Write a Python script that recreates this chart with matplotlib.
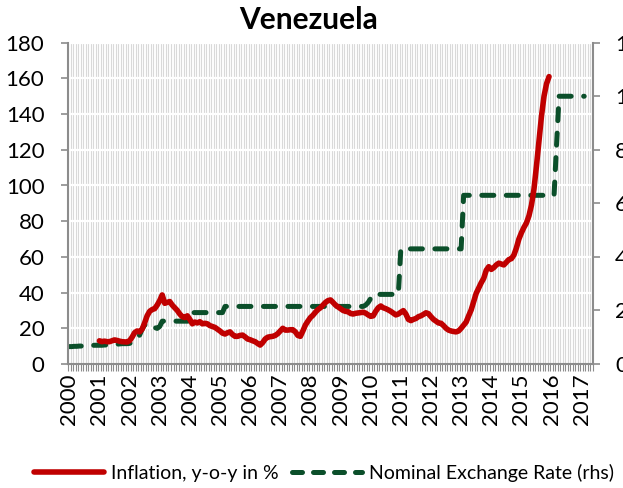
import numpy as np
import matplotlib
matplotlib.use("Agg")
import matplotlib.pyplot as plt
from matplotlib.lines import Line2D

plt.rcParams['font.family'] = ['Lato', 'DejaVu Sans']

# ---------------- data (monthly, Jan 2000 .. May 2017) ----------------
years = list(range(2000, 2018))
n_months = 209  # Jan 2000 .. May 2017

# Inflation, y-o-y in % (starts Jan 2001, ends Dec 2015)
infl_2001 = [13, 12.5, 12.8, 12.5, 12.5, 13, 13.5, 13.2, 12.8, 12.5, 12.4, 12.3]
infl_2002 = [13, 15, 17.5, 18.5, 18, 19.5, 23, 27, 29.5, 30.5, 31, 33]
infl_2003 = [35.5, 38.7, 34, 34.5, 35, 33, 31.5, 30, 28, 26.5, 26, 27]
infl_2004 = [25, 22.5, 23.5, 23, 23.7, 22.5, 22.8, 22.5, 21.5, 21, 20.5, 19.5]
infl_2005 = [18.5, 17.3, 16.8, 17.5, 18, 16.5, 15.5, 15.5, 16, 16.2, 15.2, 14]
infl_2006 = [13.6, 13, 12.5, 11.5, 10.6, 12, 14, 15, 15.3, 15.5, 16, 17]
infl_2007 = [18.5, 20, 19, 19, 19.2, 19.2, 18, 16, 15.5, 18.5, 21.8, 24]
infl_2008 = [26, 27.3, 29, 30.5, 31.5, 33, 34.5, 35.5, 35.9, 34.5, 33, 32]
infl_2009 = [31, 30, 29.5, 29.3, 28.3, 28, 28.4, 28.6, 28.8, 29, 28.5, 27.5]
infl_2010 = [26.7, 27, 29.5, 31.5, 32.5, 31.5, 31, 30.3, 29.5, 28.5, 27.5, 28]
infl_2011 = [29, 29.9, 28, 25, 24.3, 25, 25.5, 26.5, 27, 27.8, 28.7, 28.2]
infl_2012 = [26.5, 25, 24, 23, 22.8, 21.5, 20, 19, 18.5, 18.2, 18, 18.5]
infl_2013 = [20, 21.8, 23.5, 27, 30.3, 35, 39.6, 42.5, 45.5, 48, 52.5, 54.5]
infl_2014 = [53, 54, 55.5, 56.5, 56, 55.5, 57, 58.5, 59, 61, 65, 70]
infl_2015 = [73.5, 76.5, 79, 83, 89, 98, 111, 125, 139, 150, 157, 161]
infl_start = 12

# Nominal exchange rate (rhs), starts Jan 2000
fx_2000 = [0.65, 0.65, 0.66, 0.66, 0.67, 0.67, 0.68, 0.68, 0.69, 0.69, 0.70, 0.70]
fx_2001 = [0.70, 0.70, 0.71, 0.71, 0.72, 0.72, 0.73, 0.74, 0.75, 0.76, 0.76, 0.76]
fx_2002 = [0.77, 0.80, 0.90, 0.98, 1.08, 1.30, 1.46, 1.50, 1.52, 1.45, 1.36, 1.33]
fx_2003 = [1.40] + [1.60] * 11
fx_2004 = [1.60] + [1.92] * 11
fx_2005 = [1.92, 1.92] + [2.15] * 10
fx_2006 = [2.15] * 12
fx_2007 = [2.15] * 12
fx_2008 = [2.15] * 12
fx_2009 = [2.15] * 10 + [2.20, 2.30]
fx_2010 = [2.45] + [2.60] * 11
fx_2011 = [4.30] * 12
fx_2012 = [4.30] * 12
fx_2013 = [4.30] + [6.30] * 11
fx_2014 = [6.30] * 12
fx_2015 = [6.30] * 12
fx_2016 = [6.30, 6.30, 8.20] + [10.0] * 9
fx_2017 = [10.0, 10.0]

infl_vals = (infl_2001 + infl_2002 + infl_2003 + infl_2004 + infl_2005 + infl_2006 +
             infl_2007 + infl_2008 + infl_2009 + infl_2010 + infl_2011 + infl_2012 +
             infl_2013 + infl_2014 + infl_2015)
fx_vals = (fx_2000 + fx_2001 + fx_2002 + fx_2003 + fx_2004 + fx_2005 + fx_2006 +
           fx_2007 + fx_2008 + fx_2009 + fx_2010 + fx_2011 + fx_2012 + fx_2013 +
           fx_2014 + fx_2015 + fx_2016 + fx_2017)

x = np.arange(n_months)
inflation = np.full(n_months, np.nan)
inflation[infl_start:infl_start + len(infl_vals)] = infl_vals
fx = np.full(n_months, np.nan)
fx[:len(fx_vals)] = fx_vals

# ---------------- figure ----------------
W, H = 623, 488
fig = plt.figure(figsize=(W / 100, H / 100), dpi=100)
rect = [68 / W, 1 - 364 / H, (593 - 68) / W, (364 - 42.7) / H]

GRAY = '#8c8c8c'
RED = '#C00000'
GREEN = '#0B4F2A'
TICK_FS = 16

# background axes for gridlines
bg = fig.add_axes(rect, zorder=1)
bg.set_xlim(-0.5, n_months - 0.5)
bg.set_ylim(0, 180)
for b in np.arange(-0.5, n_months, 1.0):
    bg.axvline(b, color='#d9d9d9', lw=0.8, zorder=1)
for yv in range(20, 181, 20):
    bg.axhline(yv, color='white', lw=1.6, zorder=2)
bg.set_xticks([]); bg.set_yticks([])
for s in bg.spines.values():
    s.set_visible(False)

ax2 = fig.add_axes(rect, zorder=2)
ax = fig.add_axes(rect, zorder=3)
for a in (ax, ax2):
    a.patch.set_visible(False)
    a.set_xlim(-0.5, n_months - 0.5)

ax2.plot(x, fx, color=GREEN, lw=3.6, ls=(0, (2.4, 2.5)), dash_capstyle='round',
         solid_capstyle='round')
ax2.set_ylim(0, 12)
ax2.set_yticks(np.arange(0, 13, 2))
ax2.yaxis.tick_right()
ax2.set_xticks([])
for side in ('top', 'left', 'bottom'):
    ax2.spines[side].set_visible(False)
ax2.spines['right'].set_color(GRAY)
ax2.spines['right'].set_linewidth(1.5)
ax2.tick_params(axis='y', direction='out', length=5, width=1.2, color=GRAY,
                labelsize=TICK_FS, pad=11)

ax.plot(x, inflation, color=RED, lw=4.0, solid_capstyle='round',
        solid_joinstyle='round')
ax.set_ylim(0, 180)
ax.set_yticks(np.arange(0, 181, 20))
for side in ('top', 'right'):
    ax.spines[side].set_visible(False)
for side in ('left', 'bottom'):
    ax.spines[side].set_color(GRAY)
    ax.spines[side].set_linewidth(1.5)
ax.tick_params(axis='y', direction='out', length=5, width=1.2, color=GRAY,
               labelsize=TICK_FS, pad=12)

year_pos = [(y - 2000) * 12 for y in years]
ax.set_xticks(year_pos)
ax.set_xticklabels([str(y) for y in years], rotation=90)
ax.set_xticks(np.arange(-0.5, n_months, 1.0), minor=True)
ax.tick_params(axis='x', which='major', length=0, labelsize=TICK_FS, pad=7)
ax.tick_params(axis='x', which='minor', direction='out', length=5, width=0.8,
               color=GRAY)

fig.text(0.496, 1 - 29 / H, 'Venezuela', ha='center', va='baseline',
         fontsize=21.5, fontweight='bold')

handles = [Line2D([], [], color=RED, lw=4.0, solid_capstyle='round'),
           Line2D([], [], color=GREEN, lw=3.6, ls=(0, (2.0, 2.2)),
                  dash_capstyle='round')]
fig.legend(handles, ['Inflation, y-o-y in %', 'Nominal Exchange Rate (rhs)'],
           loc='center left', bbox_to_anchor=(34 / W, 15 / H), ncol=2,
           frameon=False, fontsize=14.0, handlelength=3.6, handletextpad=0.35,
           columnspacing=0.7, borderpad=0, borderaxespad=0)

fig.savefig('out.png', dpi=100)
